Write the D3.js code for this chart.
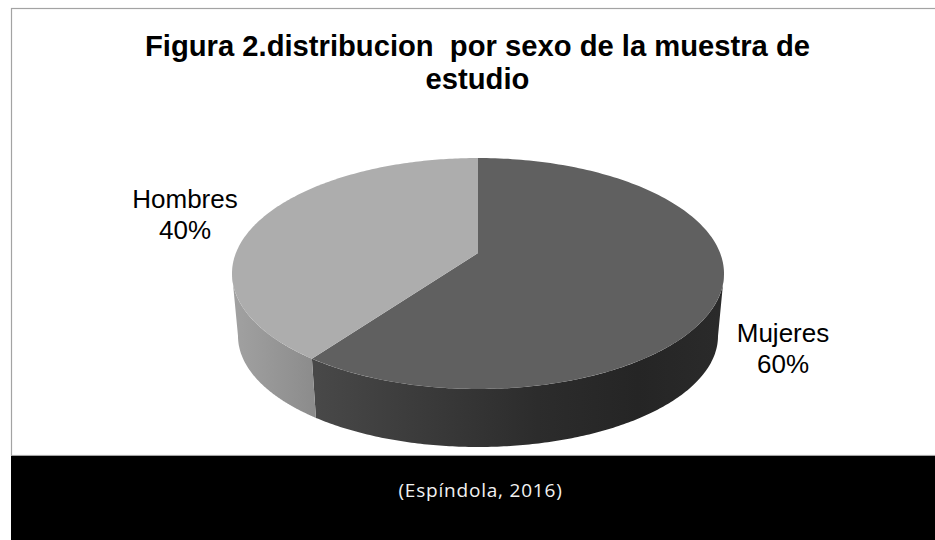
<!DOCTYPE html>
<html>
<head>
<meta charset="utf-8">
<script src="https://cdn.jsdelivr.net/npm/d3@7/dist/d3.min.js"></script>
<style>
  html, body { margin: 0; padding: 0; background: #fff; }
  svg { display: block; }
  text { white-space: pre; }
</style>
</head>
<body>
<svg id="chart" width="935" height="540"></svg>
<script>
// Chart content
const categories = ["Mujeres", "Hombres"];
const shares = [60, 40];
const titleLines = ["Figura 2.distribucion  por sexo de la muestra de", "estudio"];
const sourceNote = "(Espíndola, 2016)";

const svg = d3.select("#chart");
const defs = svg.append("defs");

// Frame and the black source band
svg.append("rect").attr("x", 11.5).attr("y", 8.5).attr("width", 930).attr("height", 447)
  .attr("fill", "#fff").attr("stroke", "#a3a3a3").attr("stroke-width", 1.2);
svg.append("rect").attr("x", 11).attr("y", 456).attr("width", 924).attr("height", 84).attr("fill", "#000");

// Tilted disc: the top rim and the bottom rim are two ellipses, with a
// projective term so the pie's centre sits behind the middle of the ellipse.
const topRim = { cx: 478, cy: 273.5, rx: 246, ry: 115.5 };
const bottomRim = { cx: 478, cy: 336, rx: 240, ry: 111 };
const tilt = -0.177;
const project = (rim, r, angle) => {
  const X = r * Math.sin(angle), Y = -r * Math.cos(angle);
  const w = 1 + tilt * Y;
  return [rim.cx + rim.rx * Math.sqrt(1 - tilt * tilt) * X / w,
          rim.cy + rim.ry * (Y + tilt) / w];
};

// Angles at which the rim reaches its widest points: only the arc between
// them, through the bottom of the disc, shows a side wall.
const wallFrom = Math.acos(tilt);
const wallTo = 2 * Math.PI - wallFrom;

const pie = d3.pie().sort(null).value(d => d)(shares);
const line = d3.line();
const sweep = (a0, a1) => d3.range(0, 181).map(i => a0 + (a1 - a0) * i / 180);

const topFill = ["#606060", "#adadad"];
const wallStops = [
  [[0, "#484848"], [0.55, "#2c2c2c"], [0.8, "#252525"], [1, "#2a2a2a"]],
  [[0, "#8b8b8b"], [1, "#a0a0a0"]]
];
const wallSpan = [[317, 718], [317, 238]];

wallStops.forEach((stops, i) => {
  const g = defs.append("linearGradient").attr("id", "wall" + i)
    .attr("gradientUnits", "userSpaceOnUse")
    .attr("x1", wallSpan[i][0]).attr("x2", wallSpan[i][1]).attr("y1", 0).attr("y2", 0);
  stops.forEach(s => g.append("stop").attr("offset", s[0]).attr("stop-color", s[1]));
});

// Side walls first, then the top faces over them
svg.append("g").selectAll("path").data(pie).join("path")
  .attr("d", d => {
    const angles = sweep(Math.max(d.startAngle, wallFrom), Math.min(d.endAngle, wallTo));
    const upper = angles.map(a => project(topRim, 1, a));
    const lower = angles.slice().reverse().map(a => project(bottomRim, 1, a));
    return line(upper.concat(lower)) + "Z";
  })
  .attr("fill", (d, i) => `url(#wall${i})`);

svg.append("g").selectAll("path").data(pie).join("path")
  .attr("d", d => {
    const rim = sweep(d.startAngle, d.endAngle).map(a => project(topRim, 1, a));
    return line([project(topRim, 0, 0)].concat(rim)) + "Z";
  })
  .attr("fill", (d, i) => topFill[i]);

// Title
svg.append("g").selectAll("text").data(titleLines).join("text")
  .attr("x", 477.5).attr("y", (d, i) => 56 + i * 32.5)
  .attr("text-anchor", "middle")
  .attr("font-family", "'Liberation Sans', Arial, sans-serif")
  .attr("font-weight", "bold").attr("font-size", 29.2).attr("fill", "#000")
  .text(d => d);

// Slice labels
const labelAnchor = [[783, 342], [185, 208]];
const labels = svg.append("g").selectAll("g").data(categories).join("g");
labels.each(function (name, i) {
  const rows = [name, shares[i] + "%"];
  d3.select(this).selectAll("text").data(rows).join("text")
    .attr("x", labelAnchor[i][0]).attr("y", (d, j) => labelAnchor[i][1] + j * 30.5)
    .attr("text-anchor", "middle")
    .attr("font-family", "'Liberation Sans', Arial, sans-serif")
    .attr("font-size", 26).attr("fill", "#000")
    .text(d => d);
});

// Source note on the band
svg.append("text").attr("x", 480.5).attr("y", 496.5)
  .attr("text-anchor", "middle")
  .attr("font-family", "'Open Sans', Lato, sans-serif")
  .attr("font-size", 19).attr("letter-spacing", 0.8).attr("fill", "#f2f2f2")
  .text(sourceNote);
</script>
</body>
</html>
